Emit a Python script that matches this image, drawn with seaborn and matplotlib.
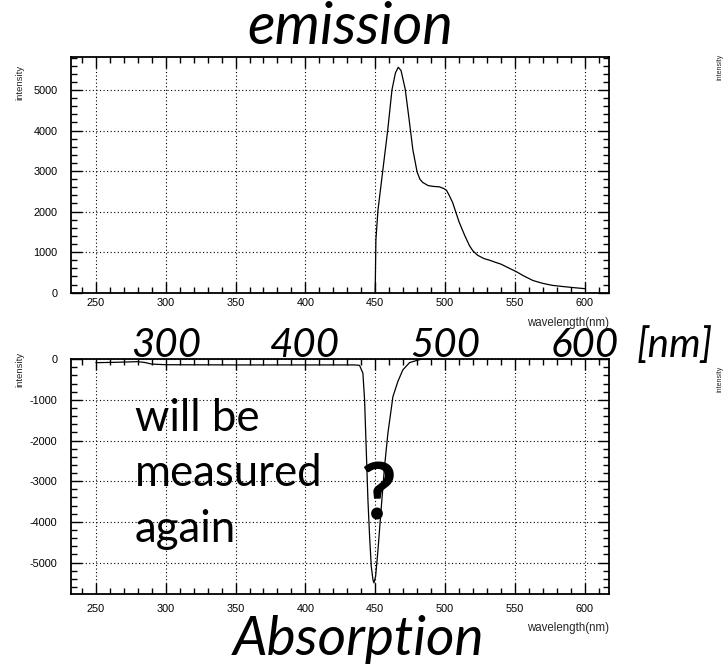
import matplotlib
matplotlib.use('Agg')
import matplotlib.pyplot as plt
import seaborn as sns
from matplotlib.ticker import MultipleLocator
from matplotlib.transforms import blended_transform_factory

# emission spectrum
em_wl = [450, 450.5, 452, 455.5, 459, 462, 464.5, 466.5, 468.5, 471.5, 474, 477, 480,
         482, 484, 488, 492, 496, 499, 501, 503, 505.5, 510, 514, 517.5, 520, 523.5,
         528, 532, 536, 540, 545, 551, 556, 563, 570, 577, 585, 592, 600]
em_int = [0, 1300, 2040, 3030, 4020, 5000, 5420, 5560, 5480, 5020, 4350, 3520, 2980,
          2800, 2720, 2640, 2620, 2610, 2570, 2530, 2400, 2220, 1750, 1420, 1160, 1030, 920,
          840, 800, 750, 705, 620, 520, 420, 300, 230, 180, 150, 125, 100]

# absorption spectrum
ab_wl = [250, 265, 280, 285, 290, 300, 350, 400, 435, 438.8, 441.2, 442.4, 443.6, 444.8,
         446, 447.2, 448.4, 449.1, 450.3, 452, 454.4, 456.7, 459.1, 462.7, 466.2, 469.8,
         474.6, 479.4, 483, 490]
ab_int = [-85, -75, -60, -80, -120, -135, -140, -140, -140, -150, -344, -1000, -2230, -3460,
          -4360, -5100, -5420, -5500, -5340, -4690, -3620, -2640, -1820, -920, -550, -263,
          -83, -34, 0, 0]

x_ticks = [250, 300, 350, 400, 450, 500, 550, 600]
big_nums = ['300', '400', '500', '600']
note_lines = ['will be', 'measured', 'again']

sns.set_style('ticks')
plt.rcParams['font.family'] = ['Liberation Sans', 'DejaVu Sans']
plt.rcParams['axes.unicode_minus'] = False

fig = plt.figure(figsize=(7.24, 6.64), dpi=100)
ax1 = fig.add_axes([0.0985, 0.5592, 0.743, 0.3554])
ax2 = fig.add_axes([0.0985, 0.105, 0.743, 0.354])

sns.lineplot(x=em_wl, y=em_int, ax=ax1, color='black', lw=0.9, estimator=None, sort=False)
sns.lineplot(x=ab_wl, y=ab_int, ax=ax2, color='black', lw=0.9, estimator=None, sort=False)

ax1.set_ylim(0, 5820)
ax2.set_ylim(-5780, 0)
for ax, pad in [(ax1, 4), (ax2, 7)]:
    ax.set_xlim(232.4, 617.6)
    ax.set_xticks(x_ticks)
    ax.xaxis.set_minor_locator(MultipleLocator(10))
    ax.yaxis.set_major_locator(MultipleLocator(1000))
    ax.yaxis.set_minor_locator(MultipleLocator(200))
    ax.tick_params(which='both', direction='in', top=True, right=True, colors='black',
                   labelsize=7.8, width=1.0)
    ax.tick_params(axis='x', which='major', pad=pad)
    ax.tick_params(axis='y', which='major', pad=10)
    ax.tick_params(which='major', length=8)
    ax.tick_params(which='minor', length=4.3)
    for s in ax.spines.values():
        s.set_visible(True)
        s.set_linewidth(1.3)
        s.set_color('black')
    ax.grid(True, which='major', color='black', lw=0.8, ls=(0, (1, 2.2)))
    ax.set_xlabel('')
    ax.set_ylabel('intensity', loc='top', fontsize=6.8)
    ax.text(1.0, -0.13 if ax is ax1 else -0.145, 'wavelength(nm)', transform=ax.transAxes,
            ha='right', va='center', fontsize=8.3)
ax1.yaxis.set_label_coords(-0.088, 0.965)
ax2.yaxis.set_label_coords(-0.088, 1.03)

big = dict(family=['Lato', 'DejaVu Sans'], style='italic', color='black')
fig.text(0.484, 0.933, 'emission', ha='center', va='baseline', fontsize=41.5, **big)
fig.text(0.495, 0.013, 'Absorption', ha='center', va='baseline', fontsize=39.5, **big)

trans = blended_transform_factory(ax1.transData, fig.transFigure)
for lab in big_nums:
    ax1.text(float(lab), 0.4625, lab, transform=trans, ha='center', va='baseline',
             fontsize=29, clip_on=False, **big)
fig.text(0.932, 0.4625, '[nm]', ha='center', va='baseline', fontsize=29, **big)

for i, line in enumerate(note_lines):
    fig.text(0.1865, 0.351 - i * 0.0835, line, ha='left', va='baseline', fontsize=31.5,
             family=['Lato', 'DejaVu Sans'], color='black')
fig.text(0.5215, 0.25, '?', ha='center', va='center', fontsize=56, fontweight='bold',
         family=['Lato', 'DejaVu Sans'], color='black')

# neighbouring panels, cut by the right edge
fig.text(0.994, 0.90, 'intensity', rotation=90, ha='center', va='center', fontsize=5)
fig.text(0.994, 0.43, 'intensity', rotation=90, ha='center', va='center', fontsize=5)
ax3 = fig.add_axes([1.036, 0.105, 0.3, 0.325])
ax3.set_ylim(-6490, 0)
ax3.set_yticks([-1000, -2000, -3000, -4000, -5000, -6000])
ax3.set_xticks([])
ax3.tick_params(axis='y', labelsize=5.5, direction='in', pad=2)

fig.savefig('out.png', dpi=100)
